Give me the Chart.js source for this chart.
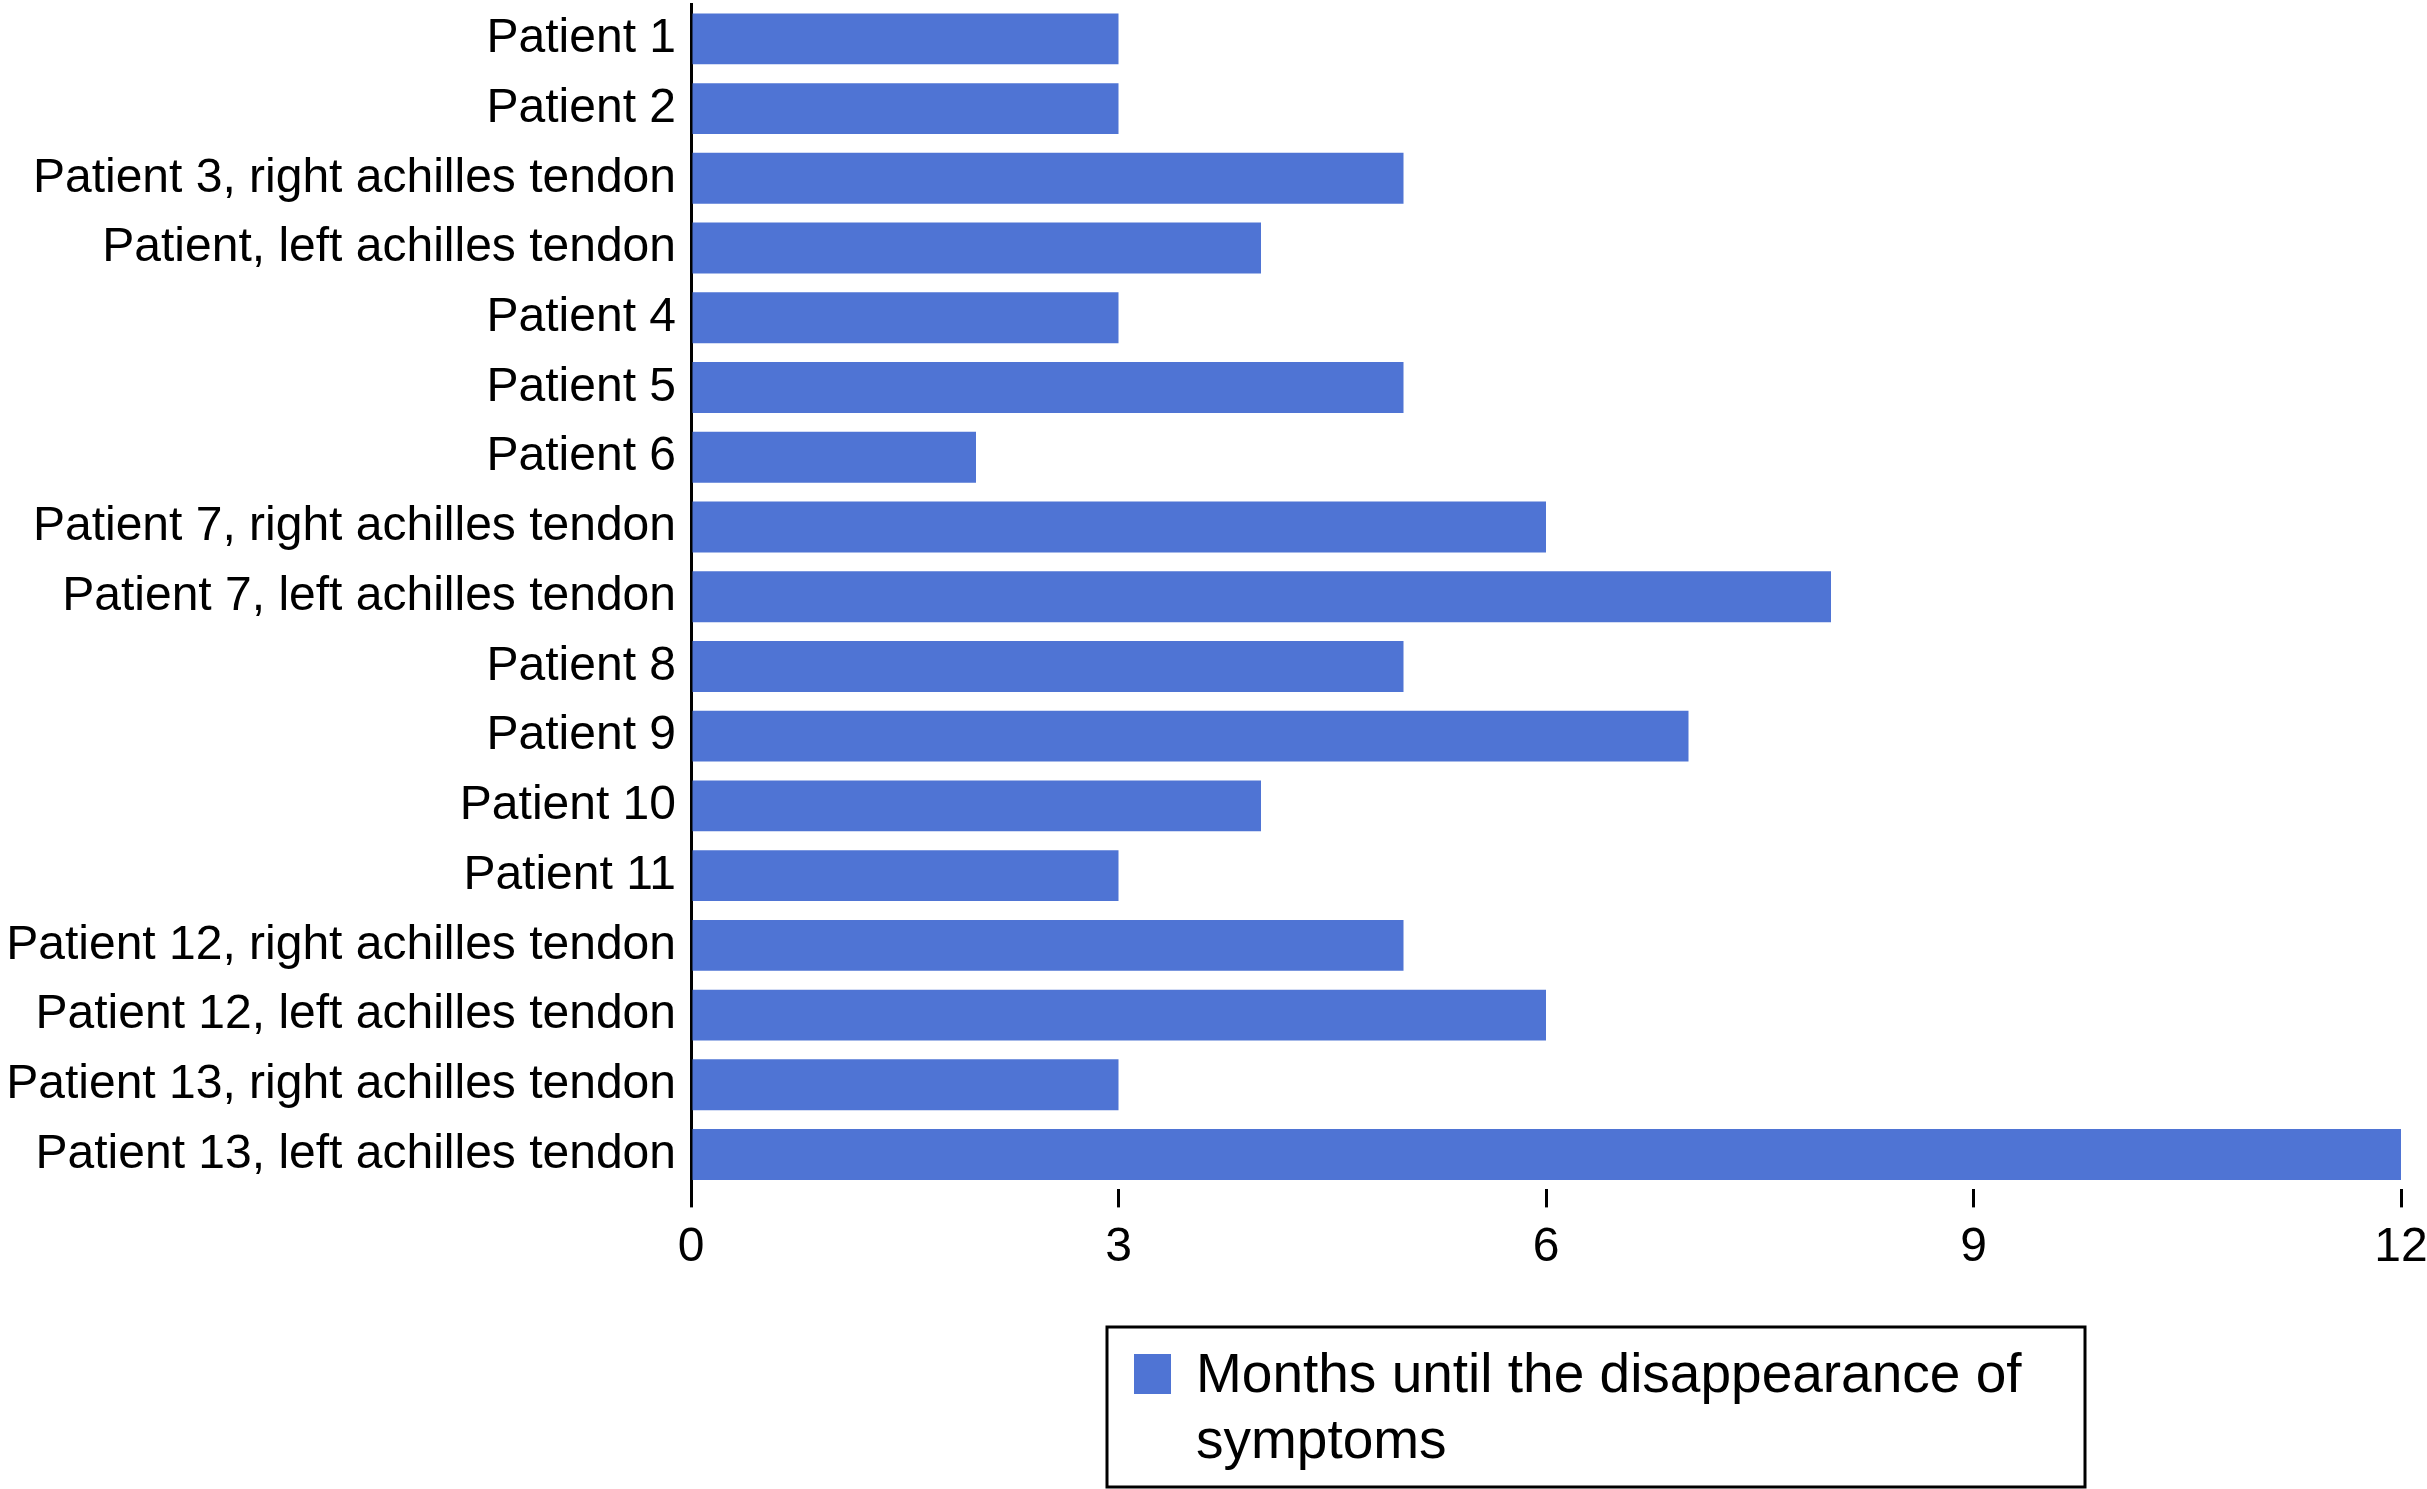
<!DOCTYPE html>
<html>
<head>
<meta charset="utf-8">
<script src="https://cdn.jsdelivr.net/npm/chart.js@4.4.0/dist/chart.umd.min.js"></script>
<style>
  body { margin: 0; background: #fff; }
  #wrap { width: 2427px; height: 1489px; }
</style>
</head>
<body>
<div id="wrap"><canvas id="canvas"></canvas></div>
<script>
const patients = [
    'Patient 1',
    'Patient 2',
    'Patient 3, right achilles tendon',
    'Patient, left achilles tendon',
    'Patient 4',
    'Patient 5',
    'Patient 6',
    'Patient 7, right achilles tendon',
    'Patient 7, left achilles tendon',
    'Patient 8',
    'Patient 9',
    'Patient 10',
    'Patient 11',
    'Patient 12, right achilles tendon',
    'Patient 12, left achilles tendon',
    'Patient 13, right achilles tendon',
    'Patient 13, left achilles tendon'
];
const months = [3, 3, 5, 4, 3, 5, 2, 6, 8, 5, 7, 4, 3, 5, 6, 3, 12];
const xTicks = [0, 3, 6, 9, 12];
const seriesName = 'Months until the disappearance of symptoms';

const barColor = '#4F74D4';
const fontFamily = '"Liberation Sans", Arial, Helvetica, sans-serif';

// boxed legend under the axis, text wraps onto two lines
const boxLegend = {
    id: 'boxLegend',
    afterDraw(chart) {
        const ctx = chart.ctx;
        const ds = chart.data.datasets[0];
        const left = 1107, top = 1327, w = 978, h = 160;
        ctx.save();
        ctx.strokeStyle = '#000';
        ctx.lineWidth = 3;
        ctx.strokeRect(left, top, w, h);
        ctx.fillStyle = ds.backgroundColor;
        ctx.fillRect(left + 27, top + 27, 37, 40);

        ctx.font = '55px ' + fontFamily;
        ctx.fillStyle = '#000';
        ctx.textBaseline = 'alphabetic';
        const words = ds.label.split(' ');
        const lines = [];
        let line = '';
        words.forEach(function (word) {
            const test = line ? line + ' ' + word : word;
            if (ctx.measureText(test).width > 860 && line) {
                lines.push(line);
                line = word;
            } else {
                line = test;
            }
        });
        lines.push(line);
        lines.forEach(function (l, i) {
            ctx.fillText(l, left + 89, top + 65 + i * 66);
        });
        ctx.restore();
    }
};

const config = {
    type: 'bar',
    data: {
        labels: patients,
        datasets: [{
            label: seriesName,
            data: months,
            backgroundColor: barColor,
            borderWidth: 0,
            categoryPercentage: 0.73,
            barPercentage: 1.0
        }]
    },
    options: {
        indexAxis: 'y',
        responsive: true,
        maintainAspectRatio: false,
        animation: false,
        layout: {
            padding: { top: 4, left: 0, right: 0, bottom: 200 }
        },
        plugins: {
            legend: { display: false },
            tooltip: { enabled: false }
        },
        scales: {
            x: {
                min: 0,
                max: 12,
                afterBuildTicks: function (scale) {
                    scale.ticks = xTicks.map(function (v) { return { value: v }; });
                },
                afterFit: function (scale) {
                    scale.paddingRight = 26;
                    scale.paddingLeft = 0;
                },
                grid: {
                    drawOnChartArea: false,
                    drawTicks: true,
                    tickLength: 18,
                    color: '#000',
                    lineWidth: 3
                },
                border: { display: false },
                ticks: {
                    color: '#000',
                    padding: 12,
                    font: { size: 48, family: fontFamily }
                }
            },
            y: {
                afterFit: function (scale) {
                    scale.width = 691;
                    scale.paddingTop = 0;
                    scale.paddingBottom = 0;
                },
                grid: { display: false, drawTicks: false },
                border: { display: true, color: '#000', width: 3 },
                ticks: {
                    color: '#000',
                    padding: 15,
                    font: { size: 48, family: fontFamily }
                }
            }
        }
    },
    plugins: [boxLegend]
};

const context = document.getElementById('canvas').getContext('2d');
const chart = new Chart(context, config);
</script>
</body>
</html>
